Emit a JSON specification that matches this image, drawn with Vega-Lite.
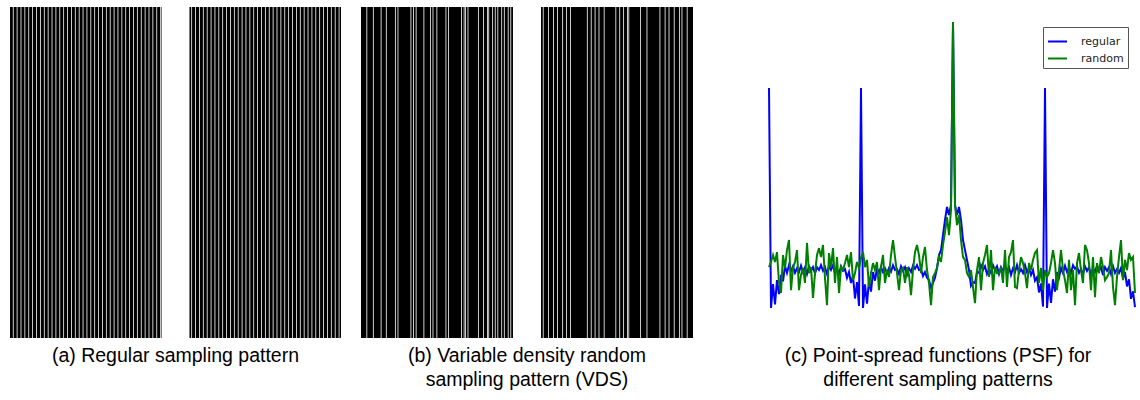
{
  "$schema": "https://vega.github.io/schema/vega-lite/v6.json",
  "background": "white",
  "padding": {"left": 10, "top": 7, "right": 0, "bottom": 0},
  "config": {
    "view": {"stroke": null},
    "title": {"font": "Liberation Sans", "fontSize": 19.5, "fontWeight": "normal", "color": "#000000", "orient": "bottom", "anchor": "middle", "align": "center", "baseline": "top", "offset": 9, "lineHeight": 24}
  },
  "spacing": 75,
  "hconcat": [
    {
      "spacing": 20,
      "hconcat": [
        {
          "width": 331,
          "height": 331,
          "title": {"text": "(a) Regular sampling pattern"},
          "layer": [
            {
              "data": {"values": [{"c0": 0, "c1": 256}]},
              "mark": {"type": "rect", "color": "#000000"},
              "encoding": {
                "x": {"field": "c0", "type": "quantitative", "scale": {"domain": [0, 256], "nice": false, "zero": false}, "axis": null},
                "x2": {"field": "c1"}
              }
            },
            {
              "data": {"values": [
                {"c0": 2, "c1": 3}, {"c0": 5, "c1": 6}, {"c0": 8, "c1": 9}, {"c0": 11, "c1": 12}, {"c0": 14, "c1": 15}, {"c0": 17, "c1": 18}, {"c0": 20, "c1": 21}, {"c0": 23, "c1": 24}, {"c0": 26, "c1": 27}, {"c0": 29, "c1": 30},
                {"c0": 32, "c1": 33}, {"c0": 35, "c1": 36}, {"c0": 38, "c1": 39}, {"c0": 41, "c1": 42}, {"c0": 44, "c1": 45}, {"c0": 47, "c1": 48}, {"c0": 50, "c1": 51}, {"c0": 53, "c1": 54}, {"c0": 56, "c1": 57}, {"c0": 59, "c1": 60},
                {"c0": 62, "c1": 63}, {"c0": 65, "c1": 66}, {"c0": 68, "c1": 69}, {"c0": 71, "c1": 72}, {"c0": 74, "c1": 75}, {"c0": 77, "c1": 78}, {"c0": 80, "c1": 81}, {"c0": 83, "c1": 84}, {"c0": 86, "c1": 87}, {"c0": 89, "c1": 90},
                {"c0": 92, "c1": 93}, {"c0": 95, "c1": 96}, {"c0": 98, "c1": 99}, {"c0": 101, "c1": 102}, {"c0": 104, "c1": 105}, {"c0": 107, "c1": 108}, {"c0": 110, "c1": 111}, {"c0": 113, "c1": 114}, {"c0": 116, "c1": 117},
                {"c0": 117, "c1": 139},
                {"c0": 140, "c1": 141}, {"c0": 143, "c1": 144}, {"c0": 146, "c1": 147}, {"c0": 149, "c1": 150}, {"c0": 152, "c1": 153}, {"c0": 155, "c1": 156}, {"c0": 158, "c1": 159}, {"c0": 161, "c1": 162}, {"c0": 164, "c1": 165}, {"c0": 167, "c1": 168},
                {"c0": 170, "c1": 171}, {"c0": 173, "c1": 174}, {"c0": 176, "c1": 177}, {"c0": 179, "c1": 180}, {"c0": 182, "c1": 183}, {"c0": 185, "c1": 186}, {"c0": 188, "c1": 189}, {"c0": 191, "c1": 192}, {"c0": 194, "c1": 195}, {"c0": 197, "c1": 198},
                {"c0": 200, "c1": 201}, {"c0": 203, "c1": 204}, {"c0": 206, "c1": 207}, {"c0": 209, "c1": 210}, {"c0": 212, "c1": 213}, {"c0": 215, "c1": 216}, {"c0": 218, "c1": 219}, {"c0": 221, "c1": 222}, {"c0": 224, "c1": 225}, {"c0": 227, "c1": 228},
                {"c0": 230, "c1": 231}, {"c0": 233, "c1": 234}, {"c0": 236, "c1": 237}, {"c0": 239, "c1": 240}, {"c0": 242, "c1": 243}, {"c0": 245, "c1": 246}, {"c0": 248, "c1": 249}, {"c0": 251, "c1": 252}, {"c0": 254, "c1": 255}
              ]},
              "mark": {"type": "rect", "color": "#ffffff", "xOffset": 0.25, "x2Offset": -0.25},
              "encoding": {
                "x": {"field": "c0", "type": "quantitative", "scale": {"domain": [0, 256], "nice": false, "zero": false}, "axis": null},
                "x2": {"field": "c1"}
              }
            }
          ]
        },
        {
          "width": 332,
          "height": 331,
          "title": {"text": ["(b) Variable density random", "sampling pattern (VDS)"]},
          "layer": [
            {
              "data": {"values": [{"c0": 0, "c1": 256}]},
              "mark": {"type": "rect", "color": "#000000"},
              "encoding": {
                "x": {"field": "c0", "type": "quantitative", "scale": {"domain": [0, 256], "nice": false, "zero": false}, "axis": null},
                "x2": {"field": "c1"}
              }
            },
            {
              "data": {"values": [
                {"c0": 4, "c1": 5}, {"c0": 9, "c1": 10}, {"c0": 15, "c1": 16}, {"c0": 19, "c1": 20}, {"c0": 26, "c1": 27}, {"c0": 28, "c1": 29}, {"c0": 38, "c1": 39}, {"c0": 40, "c1": 41}, {"c0": 42, "c1": 43}, {"c0": 48, "c1": 49},
                {"c0": 53, "c1": 54}, {"c0": 55, "c1": 56}, {"c0": 58, "c1": 59}, {"c0": 65, "c1": 66}, {"c0": 67, "c1": 68}, {"c0": 77, "c1": 78}, {"c0": 79, "c1": 80}, {"c0": 80, "c1": 81}, {"c0": 82, "c1": 83}, {"c0": 90, "c1": 91},
                {"c0": 94, "c1": 95}, {"c0": 97, "c1": 98}, {"c0": 98, "c1": 99}, {"c0": 101, "c1": 102}, {"c0": 103, "c1": 104}, {"c0": 105, "c1": 106}, {"c0": 108, "c1": 109}, {"c0": 110, "c1": 111}, {"c0": 113, "c1": 114}, {"c0": 115, "c1": 116},
                {"c0": 117, "c1": 139},
                {"c0": 140, "c1": 141}, {"c0": 144, "c1": 145}, {"c0": 148, "c1": 149}, {"c0": 151, "c1": 152}, {"c0": 155, "c1": 156}, {"c0": 158, "c1": 159}, {"c0": 161, "c1": 162}, {"c0": 174, "c1": 175}, {"c0": 177, "c1": 178}, {"c0": 180, "c1": 181},
                {"c0": 183, "c1": 184}, {"c0": 187, "c1": 188}, {"c0": 196, "c1": 197}, {"c0": 199, "c1": 200}, {"c0": 202, "c1": 203}, {"c0": 205, "c1": 206}, {"c0": 206, "c1": 207}, {"c0": 215, "c1": 216}, {"c0": 220, "c1": 221}, {"c0": 230, "c1": 231},
                {"c0": 234, "c1": 235}, {"c0": 237, "c1": 238}, {"c0": 241, "c1": 242}, {"c0": 245, "c1": 246}, {"c0": 247, "c1": 248}, {"c0": 251, "c1": 252}
              ]},
              "mark": {"type": "rect", "color": "#ffffff", "xOffset": 0.25, "x2Offset": -0.25},
              "encoding": {
                "x": {"field": "c0", "type": "quantitative", "scale": {"domain": [0, 256], "nice": false, "zero": false}, "axis": null},
                "x2": {"field": "c1"}
              }
            }
          ]
        }
      ]
    },
    {
      "width": 370,
      "height": 331,
      "title": {"text": ["(c) Point-spread functions (PSF) for", "different sampling patterns"], "dx": -15},
      "data": {"values": [
        {"i":0,"regular":77.1,"random":14.9},{"i":1,"regular":0.7,"random":16.7},{"i":2,"regular":9.0,"random":19.1},{"i":3,"regular":2.0,"random":16.7},{"i":4,"regular":10.4,"random":20.1},
        {"i":5,"regular":5.5,"random":9.4},{"i":6,"regular":12.2,"random":5.9},{"i":7,"regular":10.0,"random":19.1},{"i":8,"regular":15.3,"random":14.6},{"i":9,"regular":12.9,"random":20.8},
        {"i":10,"regular":15.6,"random":24.3},{"i":11,"regular":13.6,"random":6.9},{"i":12,"regular":15.2,"random":14.6},{"i":13,"regular":12.9,"random":16.7},{"i":14,"regular":14.5,"random":20.8},
        {"i":15,"regular":13.2,"random":6.9},{"i":16,"regular":15.4,"random":12.2},{"i":17,"regular":13.1,"random":14.6},{"i":18,"regular":14.8,"random":9.4},{"i":19,"regular":12.5,"random":23.3},
        {"i":20,"regular":15.2,"random":12.8},{"i":21,"regular":13.6,"random":14.9},{"i":22,"regular":14.9,"random":4.2},{"i":23,"regular":12.7,"random":12.8},{"i":24,"regular":14.9,"random":19.1},
        {"i":25,"regular":13.9,"random":21.5},{"i":26,"regular":15.6,"random":18.4},{"i":27,"regular":13.6,"random":22.6},{"i":28,"regular":14.9,"random":11.1},{"i":29,"regular":12.5,"random":1.7},
        {"i":30,"regular":15.2,"random":19.8},{"i":31,"regular":13.9,"random":14.9},{"i":32,"regular":15.6,"random":21.5},{"i":33,"regular":12.9,"random":9.4},{"i":34,"regular":14.2,"random":18.4},
        {"i":35,"regular":12.5,"random":5.9},{"i":36,"regular":15.2,"random":14.9},{"i":37,"regular":13.6,"random":13.9},{"i":38,"regular":14.2,"random":16.3},{"i":39,"regular":11.2,"random":19.1},
        {"i":40,"regular":13.2,"random":14.9},{"i":41,"regular":9.4,"random":20.1},{"i":42,"regular":11.8,"random":10.4},{"i":43,"regular":4.0,"random":12.8},{"i":44,"regular":9.7,"random":16.7},
        {"i":45,"regular":1.4,"random":14.6},{"i":46,"regular":77.1,"random":18.1},{"i":47,"regular":0.7,"random":20.1},{"i":48,"regular":8.9,"random":14.9},{"i":49,"regular":2.2,"random":17.4},
        {"i":50,"regular":10.4,"random":8.0},{"i":51,"regular":6.4,"random":12.8},{"i":52,"regular":13.2,"random":16.3},{"i":53,"regular":10.2,"random":13.9},{"i":54,"regular":14.6,"random":16.7},
        {"i":55,"regular":12.9,"random":6.9},{"i":56,"regular":14.9,"random":14.9},{"i":57,"regular":13.2,"random":19.1},{"i":58,"regular":14.5,"random":9.4},{"i":59,"regular":12.9,"random":13.9},
        {"i":60,"regular":14.6,"random":11.5},{"i":61,"regular":13.3,"random":19.1},{"i":62,"regular":15.6,"random":24.3},{"i":63,"regular":13.9,"random":18.4},{"i":64,"regular":14.2,"random":12.8},
        {"i":65,"regular":12.5,"random":6.9},{"i":66,"regular":15.2,"random":13.9},{"i":67,"regular":13.6,"random":14.6},{"i":68,"regular":14.9,"random":9.4},{"i":69,"regular":12.2,"random":14.9},
        {"i":70,"regular":14.5,"random":12.2},{"i":71,"regular":13.2,"random":5.2},{"i":72,"regular":15.4,"random":13.9},{"i":73,"regular":14.3,"random":20.1},{"i":74,"regular":15.6,"random":22.6},
        {"i":75,"regular":13.9,"random":19.1},{"i":76,"regular":14.2,"random":12.8},{"i":77,"regular":11.8,"random":18.4},{"i":78,"regular":13.2,"random":21.9},{"i":79,"regular":11.2,"random":13.9},
        {"i":80,"regular":10.4,"random":9.4},{"i":81,"regular":7.7,"random":1.7},{"i":82,"regular":9.4,"random":11.5},{"i":83,"regular":11.2,"random":12.8},{"i":84,"regular":14.6,"random":14.6},
        {"i":85,"regular":19.1,"random":18.4},{"i":86,"regular":20.8,"random":16.7},{"i":87,"regular":26.0,"random":22.6},{"i":88,"regular":31.3,"random":27.1},{"i":89,"regular":35.8,"random":32.3},
        {"i":90,"regular":33.0,"random":26.0},{"i":91,"regular":36.5,"random":34.7},{"i":92,"regular":100,"random":100},{"i":93,"regular":36.5,"random":36.5},{"i":94,"regular":33.0,"random":29.5},
        {"i":95,"regular":35.8,"random":33.0},{"i":96,"regular":31.3,"random":24.3},{"i":97,"regular":24.3,"random":18.4},{"i":98,"regular":20.8,"random":17.4},{"i":99,"regular":17.4,"random":12.8},
        {"i":100,"regular":13.9,"random":11.5},{"i":101,"regular":8.4,"random":13.9},{"i":102,"regular":9.7,"random":8.0},{"i":103,"regular":9.4,"random":2.4},{"i":104,"regular":13.2,"random":13.9},
        {"i":105,"regular":12.9,"random":18.4},{"i":106,"regular":15.6,"random":6.9},{"i":107,"regular":13.9,"random":16.3},{"i":108,"regular":15.2,"random":19.1},{"i":109,"regular":12.5,"random":22.6},
        {"i":110,"regular":14.2,"random":11.5},{"i":111,"regular":12.9,"random":20.8},{"i":112,"regular":15.6,"random":6.9},{"i":113,"regular":13.9,"random":14.9},{"i":114,"regular":15.2,"random":12.8},
        {"i":115,"regular":12.5,"random":12.8},{"i":116,"regular":14.9,"random":14.9},{"i":117,"regular":13.6,"random":9.4},{"i":118,"regular":15.3,"random":20.8},{"i":119,"regular":13.6,"random":8.0},
        {"i":120,"regular":14.9,"random":18.4},{"i":121,"regular":12.2,"random":20.1},{"i":122,"regular":14.5,"random":24.3},{"i":123,"regular":13.2,"random":8.0},{"i":124,"regular":15.6,"random":7.6},
        {"i":125,"regular":12.9,"random":13.9},{"i":126,"regular":14.2,"random":18.4},{"i":127,"regular":12.9,"random":16.3},{"i":128,"regular":15.6,"random":12.8},{"i":129,"regular":13.2,"random":7.6},
        {"i":130,"regular":14.5,"random":16.3},{"i":131,"regular":12.2,"random":13.9},{"i":132,"regular":13.9,"random":17.4},{"i":133,"regular":10.2,"random":19.8},{"i":134,"regular":11.4,"random":20.8},
        {"i":135,"regular":6.1,"random":9.4},{"i":136,"regular":9.2,"random":14.6},{"i":137,"regular":1.2,"random":6.9},{"i":138,"regular":77.1,"random":13.9},{"i":139,"regular":0.7,"random":11.5},
        {"i":140,"regular":9.2,"random":12.8},{"i":141,"regular":2.5,"random":16.3},{"i":142,"regular":10.7,"random":20.8},{"i":143,"regular":6.4,"random":16.3},{"i":144,"regular":13.2,"random":6.9},
        {"i":145,"regular":11.2,"random":13.9},{"i":146,"regular":14.6,"random":20.8},{"i":147,"regular":12.9,"random":13.9},{"i":148,"regular":15.4,"random":10.4},{"i":149,"regular":13.2,"random":5.9},
        {"i":150,"regular":14.5,"random":17.4},{"i":151,"regular":12.9,"random":6.9},{"i":152,"regular":15.6,"random":13.9},{"i":153,"regular":14.3,"random":1.7},{"i":154,"regular":15.1,"random":16.3},
        {"i":155,"regular":12.9,"random":19.8},{"i":156,"regular":14.2,"random":13.9},{"i":157,"regular":12.5,"random":9.4},{"i":158,"regular":15.2,"random":22.6},{"i":159,"regular":13.6,"random":20.8},
        {"i":160,"regular":14.9,"random":16.3},{"i":161,"regular":12.2,"random":6.9},{"i":162,"regular":14.5,"random":18.4},{"i":163,"regular":13.2,"random":4.5},{"i":164,"regular":15.4,"random":16.3},
        {"i":165,"regular":13.6,"random":12.8},{"i":166,"regular":14.9,"random":18.4},{"i":167,"regular":12.2,"random":14.9},{"i":168,"regular":14.9,"random":10.4},{"i":169,"regular":13.6,"random":11.5},
        {"i":170,"regular":14.9,"random":12.8},{"i":171,"regular":12.5,"random":20.8},{"i":172,"regular":15.2,"random":8.0},{"i":173,"regular":12.9,"random":1.7},{"i":174,"regular":14.2,"random":11.5},
        {"i":175,"regular":12.9,"random":18.4},{"i":176,"regular":14.6,"random":24.3},{"i":177,"regular":10.9,"random":10.4},{"i":178,"regular":13.2,"random":17.4},{"i":179,"regular":8.2,"random":13.9},
        {"i":180,"regular":10.7,"random":19.8},{"i":181,"regular":3.9,"random":17.4},{"i":182,"regular":6.5,"random":18.4},{"i":183,"regular":1.0,"random":5.9}
      ]},
      "encoding": {
        "x": {"field": "i", "type": "quantitative", "scale": {"domain": [-0.5, 184.5], "nice": false, "zero": false}, "axis": null}
      },
      "layer": [
        {
          "mark": {"type": "line", "strokeWidth": 2, "clip": true},
          "encoding": {
            "y": {"field": "regular", "type": "quantitative", "scale": {"domain": [-9.7, 105.2], "nice": false, "zero": false}, "axis": null},
            "color": {"datum": "regular", "type": "nominal", "scale": {"domain": ["regular", "random"], "range": ["#0000ff", "#008000"]},
              "legend": {"orient": "none", "legendX": 1033, "legendY": 20, "title": null, "strokeColor": "#555555", "fillColor": "#ffffff", "padding": 4, "symbolType": "stroke", "symbolSize": 361, "symbolStrokeWidth": 2, "labelFont": "DejaVu Sans", "labelFontSize": 11, "labelColor": "#222222", "labelOffset": 13, "rowPadding": 1, "cornerRadius": 0}}
          }
        },
        {
          "mark": {"type": "line", "strokeWidth": 2, "clip": true},
          "encoding": {
            "y": {"field": "random", "type": "quantitative", "scale": {"domain": [-9.7, 105.2], "nice": false, "zero": false}, "axis": null},
            "color": {"datum": "random", "type": "nominal"}
          }
        }
      ]
    }
  ]
}
